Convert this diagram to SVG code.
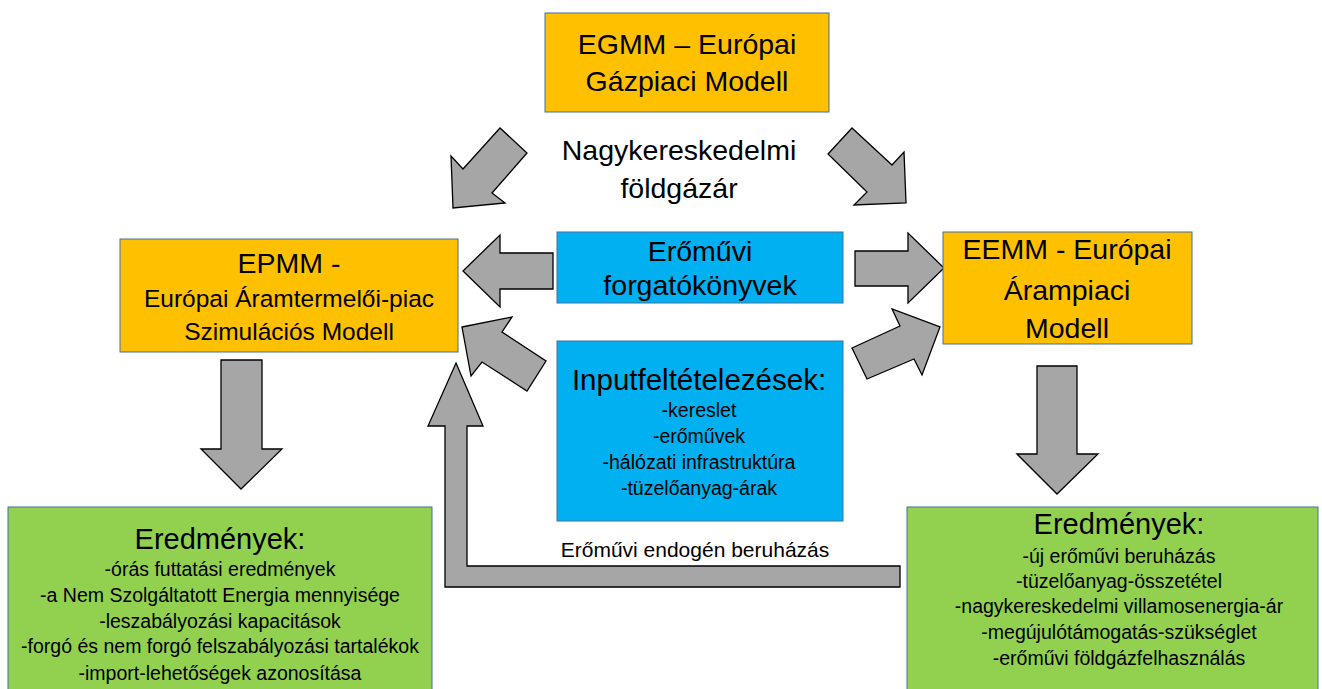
<svg xmlns="http://www.w3.org/2000/svg" width="1322" height="689" viewBox="0 0 1322 689">
  <style>
    .model { fill: #FFC000; stroke: #41719C; stroke-width: 1; }
    .input { fill: #00B0F0; stroke: #41719C; stroke-width: 1; }
    .result { fill: #92D050; stroke: #41719C; stroke-width: 1; }
    .arrow { fill: #A6A6A6; stroke: #000000; stroke-width: 1.3; stroke-linejoin: miter; }
    text { font-family: "Liberation Sans", Arial, sans-serif; fill: #000000; text-anchor: middle; }
    .big { font-size: 28.5px; }
    .mid { font-size: 24.5px; }
    .small { font-size: 19.5px; }
  </style>
  <rect width="1322" height="689" fill="#FFFFFF"/>

  <!-- connectors: block arrows -->
  <g id="connectors">
    <!-- EGMM to EPMM / EEMM -->
    <polygon class="arrow" points="453,208 451,156 463,169 500,128 527,153 492,193 505,203"/>
    <polygon class="arrow" points="852,128 892,165 904,152 906,203 854,205 867,192 828,154"/>
    <!-- scenario box to both models -->
    <polygon class="arrow" points="463,271 500,235 500,253 553,253 553,289 500,289 500,307"/>
    <polygon class="arrow" points="855,251 908,251 908,233 944,268 908,303 908,286 855,286"/>
    <!-- input assumptions to both models -->
    <polygon class="arrow" points="462,327 512,317 502,332 546,361 527,391 482,362 471,376"/>
    <polygon class="arrow" points="852,348 900,326 892,309 940,327 922,375 914,359 867,379"/>
    <!-- models to results -->
    <polygon class="arrow" points="221,360 262,360 262,449 282,449 241,489 201,449 221,449"/>
    <polygon class="arrow" points="1037,366 1077,366 1077,454 1098,454 1057,494 1017,454 1037,454"/>
    <!-- endogenous investment feedback -->
    <polygon class="arrow" points="456,363 483,426 467,426 467,566 900,566 900,587 445,587 445,426 428,426"/>
    <text class="small" x="695" y="557" style="font-size:21px">Erőművi endogén beruházás</text>
    <text class="big" x="679" y="160">Nagykereskedelmi</text>
    <text class="big" x="679" y="198">földgázár</text>
  </g>

  <g id="egmm">
    <rect class="model" x="545" y="13" width="284" height="99"/>
    <text class="big" x="687" y="54">EGMM – Európai</text>
    <text class="big" x="687" y="91">Gázpiaci Modell</text>
  </g>

  <g id="epmm">
    <rect class="model" x="120" y="239" width="338" height="113"/>
    <text class="big" x="289" y="273">EPMM -</text>
    <text class="mid" x="289" y="307">Európai Áramtermelői-piac</text>
    <text class="mid" x="289" y="340">Szimulációs Modell</text>
  </g>

  <g id="eemm">
    <rect class="model" x="943" y="232" width="249" height="112"/>
    <text class="big" x="1067" y="259">EEMM - Európai</text>
    <text class="big" x="1067" y="300">Árampiaci</text>
    <text class="big" x="1067" y="338">Modell</text>
  </g>

  <g id="scenarios">
    <rect class="input" x="557" y="232" width="286" height="71"/>
    <text class="big" x="700" y="261">Erőművi</text>
    <text class="big" x="700" y="295">forgatókönyvek</text>
  </g>

  <g id="inputs">
    <rect class="input" x="557" y="341" width="286" height="180"/>
    <text class="big" x="699" y="390" style="font-size:29.5px">Inputfeltételezések:</text>
    <text class="small" x="699" y="417">-kereslet</text>
    <text class="small" x="699" y="443">-erőművek</text>
    <text class="small" x="699" y="469">-hálózati infrastruktúra</text>
    <text class="small" x="699" y="495">-tüzelőanyag-árak</text>
  </g>

  <g id="results-epmm">
    <rect class="result" x="8" y="507" width="424" height="200"/>
    <text class="big" x="220" y="549" style="font-size:29px">Eredmények:</text>
    <text class="small" x="220" y="576">-órás futtatási eredmények</text>
    <text class="small" x="220" y="602">-a Nem Szolgáltatott Energia mennyisége</text>
    <text class="small" x="220" y="628">-leszabályozási kapacitások</text>
    <text class="small" x="220" y="653">-forgó és nem forgó felszabályozási tartalékok</text>
    <text class="small" x="220" y="680">-import-lehetőségek  azonosítása</text>
  </g>

  <g id="results-eemm">
    <rect class="result" x="907" y="507" width="411" height="200"/>
    <text class="big" x="1119" y="534" style="font-size:29px">Eredmények:</text>
    <text class="small" x="1119" y="563">-új erőművi beruházás</text>
    <text class="small" x="1119" y="588">-tüzelőanyag-összetétel</text>
    <text class="small" x="1119" y="613">-nagykereskedelmi  villamosenergia-ár</text>
    <text class="small" x="1119" y="639">-megújulótámogatás-szükséglet</text>
    <text class="small" x="1119" y="665">-erőművi  földgázfelhasználás</text>
  </g>
</svg>
